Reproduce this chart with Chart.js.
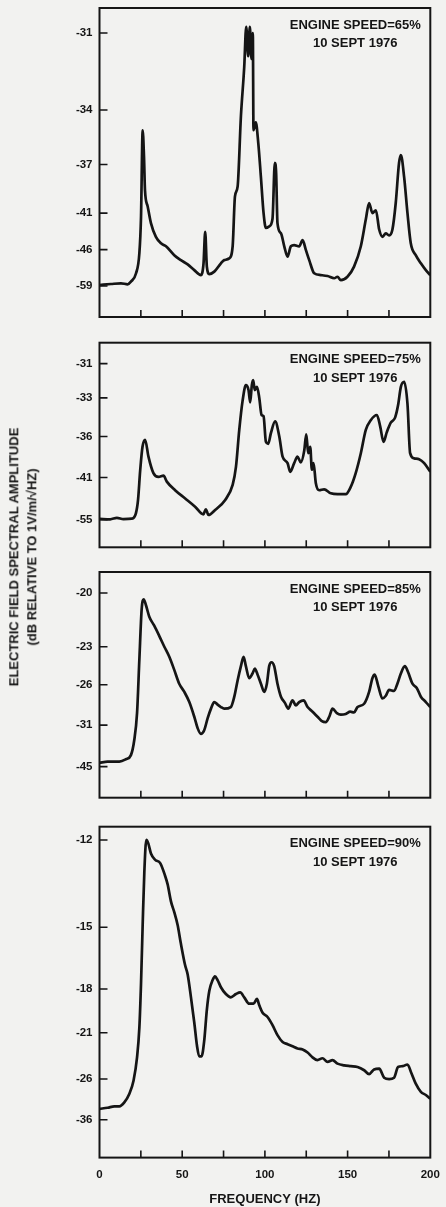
<!DOCTYPE html>
<html>
<head>
<meta charset="utf-8">
<script src="https://cdn.jsdelivr.net/npm/chart.js@4.4.0/dist/chart.umd.min.js"></script>
<style>
  html, body { margin: 0; padding: 0; background: #f2f2f0; }
  body { width: 446px; height: 1207px; position: relative; overflow: hidden; font-family: "Liberation Sans", Arial, sans-serif; }
  canvas { position: absolute; left: 0; }
  .ytitle { position: absolute; left: 23px; top: 557px; transform: translate(-50%, -50%) rotate(-90deg);
    white-space: nowrap; text-align: center; font-weight: bold; font-size: 13px; line-height: 17.7px; color: #151515; }
</style>
</head>
<body>
<canvas id="c65" width="446" height="330" style="top:0px"></canvas>
<canvas id="c75" width="446" height="230" style="top:330px"></canvas>
<canvas id="c85" width="446" height="250" style="top:560px"></canvas>
<canvas id="c90" width="446" height="397" style="top:810px"></canvas>
<div class="ytitle">ELECTRIC FIELD SPECTRAL AMPLITUDE<br>(dB RELATIVE TO 1V/m/√HZ)</div>
<script>
// values: frequency in Hz, level in dB
const freq65 = [0, 6.9, 13, 17, 19, 22.1, 24.1, 25.1, 26.1, 26.9, 27.5, 29.1, 31.1, 34.1, 37.2, 40.2, 45.2, 49.2, 53.3, 57.3,
  61.3, 62.9, 63.9, 64.9, 66.4, 69.4, 73.4, 75.4, 78.4, 80.5, 81.9, 83.5, 85.5, 87.5, 88.7, 89.9, 90.9, 91.9, 92.7, 93.1,
  94.5, 96.0, 97.6, 99.2, 100.6, 102.6, 104.6, 106.0, 106.8, 107.6, 109.7, 111.7, 113.7, 115.7, 117.7, 120.7, 122.8, 124.8, 126.8, 129.8,
  133.8, 137.9, 141.9, 143.9, 145.9, 149.9, 153.9, 158.0, 161.0, 163.0, 165.0, 167.1, 169.1, 171.1, 173.1, 175.1, 177.1, 179.1, 181.1, 182.2,
  184.2, 186.2, 188.2, 191.2, 194.3, 197.3, 200];
const db65 = [-58.2, -57.5, -57.0, -57.7, -56.0, -52.1, -46.7, -41.4, -35.0, -36.5, -38.9, -40.3, -42.1, -43.9, -44.9, -45.4, -47.1, -48.2, -49.3, -51.0,
  -52.8, -49.0, -43.2, -49.9, -52.4, -51.5, -49.0, -48.2, -47.8, -45.4, -39.4, -38.6, -34.3, -32.2, -30.8, -31.8, -30.8, -31.9, -31.0, -35.0,
  -34.6, -35.7, -37.9, -41.0, -42.7, -42.5, -41.6, -36.9, -37.6, -42.1, -43.4, -45.4, -47.4, -45.4, -45.2, -45.4, -44.4, -46.1, -48.2, -52.1,
  -52.8, -53.2, -54.2, -53.5, -55.1, -53.5, -49.9, -45.4, -41.7, -40.0, -41.0, -40.7, -42.9, -43.9, -43.4, -43.7, -42.9, -40.0, -36.9, -36.4,
  -37.9, -41.0, -44.9, -47.1, -49.0, -51.0, -52.8];

const freq75 = [0, 6.5, 10.5, 14.5, 19.5, 22.0, 23.3, 24.6, 26.0, 27.6, 29.6, 32.6, 35.7, 38.7, 40.7, 45.7, 51.8, 57.8, 62.8, 64.3,
  65.9, 69.9, 76.0, 80.5, 82.5, 84.5, 86.5, 88.5, 90.1, 91.1, 92.1, 92.9, 93.9, 95.2, 96.6, 98.0, 99.2, 100.6,
  102.0, 103.6, 106.2, 108.7, 110.7, 113.7, 115.3, 117.7, 119.7, 121.7, 123.8, 125.0, 126.2, 127.4, 128.4, 129.4, 130.8, 132.8, 135.8, 139.9,
  143.9, 148.9, 151.9, 154.9, 158.0, 161.0, 164.0, 167.7, 169.7, 171.7, 173.7, 176.1, 178.7, 180.5, 182.2, 184.2, 186.2, 187.8, 190.2, 193.2,
  196.3, 200];
const db75 = [-54.4, -54.7, -53.6, -54.5, -54.2, -50.9, -45.8, -39.9, -37.0, -36.3, -38.1, -40.3, -40.9, -40.7, -41.7, -43.4, -45.4, -48.0, -51.4, -49.0,
  -51.8, -49.3, -45.8, -42.3, -39.4, -35.4, -33.2, -32.2, -32.5, -33.3, -32.2, -31.9, -32.5, -32.3, -33.0, -34.2, -34.3, -36.5,
  -36.7, -35.7, -34.7, -36.0, -38.1, -38.9, -40.1, -38.9, -38.1, -38.8, -37.4, -35.8, -37.7, -37.0, -39.8, -38.9, -42.0, -43.4, -43.2, -44.1,
  -44.3, -44.3, -42.7, -40.3, -37.7, -35.4, -34.6, -34.2, -35.1, -36.5, -35.6, -34.8, -34.4, -33.5, -32.3, -32.0, -33.4, -37.7, -38.3, -38.4,
  -38.9, -40.1];

const freq85 = [0, 4.9, 12, 16, 19, 21, 22.7, 24.1, 25.5, 26.7, 28.1, 30.1, 33.1, 36.1, 39.2, 42.2, 45.2, 48.2, 51.3, 54.3,
  57.3, 59.3, 61.3, 63.3, 65.4, 67.4, 69.4, 71.4, 73.4, 75.4, 79.4, 81.5, 83.5, 85.5, 87.1, 88.5, 90.5, 92.5, 93.9, 95.6,
  97.6, 99.6, 101.2, 102.6, 104.0, 105.6, 107.6, 109.7, 112.1, 114.1, 116.7, 118.7, 120.7, 123.4, 125.8, 128.8, 131.8, 134.2, 136.8, 138.9,
  140.9, 143.5, 145.9, 148.9, 151.6, 153.9, 156.0, 160.0, 163.0, 165.0, 166.4, 168.5, 171.1, 173.1, 175.1, 178.1, 180.1, 182.2, 184.6, 186.6,
  189.2, 191.8, 194.3, 197.3, 200];
const db85 = [-42.2, -41.6, -41.6, -40.3, -38.5, -34.0, -29.2, -23.9, -20.8, -20.3, -20.6, -21.2, -21.7, -22.3, -23.0, -23.7, -24.7, -25.9, -26.7, -27.8,
  -29.7, -31.5, -32.6, -31.9, -29.9, -28.6, -27.8, -28.1, -28.4, -28.6, -28.4, -27.2, -25.6, -24.4, -23.7, -24.4, -25.4, -25.0, -24.6, -25.1,
  -25.9, -26.7, -25.9, -24.4, -24.1, -24.4, -25.9, -27.2, -27.9, -28.6, -27.6, -28.2, -27.8, -27.6, -28.4, -29.0, -29.7, -30.3, -30.5, -29.7,
  -28.6, -29.2, -29.4, -29.3, -29.0, -29.1, -28.4, -28.0, -26.7, -25.4, -25.1, -26.1, -27.4, -27.1, -26.5, -26.6, -25.9, -25.0, -24.4, -24.9,
  -25.9, -26.3, -27.2, -27.8, -28.4];

const freq90 = [0, 4.9, 9, 12, 15, 18, 20.6, 22.7, 24.1, 25.1, 26.1, 27.1, 28.3, 29.5, 31.1, 33.7, 36.7, 39.6, 41.2, 43.2,
  45.2, 47.2, 49.2, 51.7, 53.3, 55.3, 57.3, 58.9, 60.3, 61.7, 63.3, 64.9, 66.4, 68.4, 69.8, 71.4, 73.4, 76.4, 79.4, 82.5,
  85.1, 87.5, 90.5, 93.1, 95.2, 96.6, 98.6, 101.6, 104.6, 107.6, 110.7, 113.7, 116.7, 119.7, 122.8, 125.8, 128.8, 131.8, 134.8, 137.9,
  140.9, 143.9, 147.9, 151.9, 156.0, 160.0, 163.0, 166.0, 169.1, 172.1, 175.1, 178.1, 180.5, 183.2, 186.2, 188.6, 191.2, 194.3, 197.3, 200];
const db90 = [-32.0, -31.7, -31.3, -31.3, -30.3, -28.5, -26.2, -23.3, -20.6, -17.7, -14.9, -13.0, -12.0, -12.1, -12.4, -12.6, -12.7, -13.1, -13.4, -14.0,
  -14.4, -14.9, -15.7, -16.7, -17.2, -18.5, -20.2, -22.1, -23.2, -23.2, -21.7, -19.3, -18.1, -17.5, -17.3, -17.5, -17.9, -18.3, -18.5, -18.3,
  -18.2, -18.5, -18.9, -18.9, -18.6, -19.0, -19.5, -19.8, -20.4, -21.2, -21.8, -22.0, -22.2, -22.4, -22.5, -22.8, -23.3, -23.6, -23.4, -23.8,
  -23.6, -24.0, -24.2, -24.3, -24.4, -24.8, -25.3, -24.7, -24.6, -25.8, -26.0, -25.8, -24.4, -24.3, -24.1, -25.2, -26.7, -28.1, -28.7, -29.5];

// dB tick labels printed on each panel's axis
const ticks65 = [-31, -34, -37, -41, -46, -59];
const ticks75 = [-31, -33, -36, -41, -55];
const ticks85 = [-20, -23, -26, -31, -45];
const ticks90 = [-12, -15, -18, -21, -26, -36];

const freqTicks = [25, 50, 75, 100, 125, 150, 175];
const dateLabel = '10 SEPT 1976';

const ink = '#151515';
const fontFam = '"Liberation Sans", Arial, sans-serif';
Chart.defaults.font.family = fontFam;

// the original plots are linear in field amplitude with dB labels
const toAmp = db => Math.pow(10, db / 20);

const framePlugin = {
  id: 'frame',
  afterDatasetsDraw(chart, args, opts) {
    const ctx = chart.ctx;
    const a = chart.chartArea;
    const x = chart.scales.x, y = chart.scales.y;
    ctx.save();
    ctx.strokeStyle = ink;
    ctx.lineWidth = 1.6;
    ctx.beginPath();
    opts.yTicks.forEach(d => {
      const py = y.getPixelForValue(toAmp(d));
      ctx.moveTo(a.left, py);
      ctx.lineTo(a.left + 8, py);
    });
    freqTicks.forEach(f => {
      const px = x.getPixelForValue(f);
      ctx.moveTo(px, a.bottom);
      ctx.lineTo(px, a.bottom - 7);
    });
    ctx.stroke();
    ctx.lineWidth = 2;
    ctx.strokeRect(a.left, a.top, a.right - a.left, a.bottom - a.top);

    ctx.font = 'bold 13px ' + fontFam;
    ctx.fillStyle = ink;
    ctx.textAlign = 'center';
    ctx.textBaseline = 'middle';
    const cx = a.right - 75;
    ctx.fillText('ENGINE SPEED=' + opts.speed, cx, a.top + 17);
    ctx.fillText(dateLabel, cx, a.top + 35.5);
    ctx.restore();
  }
};

function makePanel(id, freq, db, yTicks, speed, yMin, yMax, padTop, padBottom, showX) {
  return new Chart(document.getElementById(id), {
    type: 'line',
    data: {
      datasets: [{
        data: freq.map((f, i) => ({ x: f, y: toAmp(db[i]) })),
        borderColor: ink,
        borderWidth: 2.7,
        pointRadius: 0,
        cubicInterpolationMode: 'monotone',
        fill: false
      }]
    },
    options: {
      responsive: false,
      animation: false,
      events: [],
      layout: { padding: { left: 0, right: 15.7, top: padTop, bottom: padBottom } },
      plugins: {
        legend: { display: false },
        tooltip: { enabled: false },
        frame: { yTicks: yTicks, speed: speed }
      },
      scales: {
        x: {
          type: 'linear', min: 0, max: 200, display: showX,
          grid: { display: false, drawTicks: false }, border: { display: false },
          afterFit: s => { s.paddingLeft = 0; s.paddingRight = 0; },
          ticks: {
            stepSize: 25, autoSkip: false, maxRotation: 0, padding: 10, color: ink,
            font: { size: 11.5, weight: 'bold' },
            callback: v => (v % 50 === 0 ? v : '')
          },
          title: {
            display: showX, text: 'FREQUENCY (HZ)', color: ink,
            font: { size: 13, weight: 'bold' }, padding: { top: 0, bottom: 0 }
          }
        },
        y: {
          type: 'linear', min: yMin, max: yMax,
          grid: { display: false, drawTicks: false }, border: { display: false },
          afterBuildTicks: s => { s.ticks = yTicks.map(d => ({ value: toAmp(d) })); },
          afterFit: s => { s.width = 99.5; s.paddingTop = 0; s.paddingBottom = 0; },
          ticks: {
            padding: 7, color: ink, autoSkip: false,
            font: { size: 11.5, weight: 'bold' },
            callback: v => Math.round(20 * Math.log10(v))
          }
        }
      }
    },
    plugins: [framePlugin]
  });
}

makePanel('c65', freq65, db65, ticks65, '65%', -0.002193, 0.030856, 8, 13, false);
makePanel('c75', freq75, db75, ticks75, '75%', -0.002894, 0.031731, 12.7, 12.7, false);
makePanel('c85', freq85, db85, ticks85, '85%', -0.01125, 0.11141, 12, 12.3, false);
makePanel('c90', freq90, db90, ticks90, '90%', -0.015922, 0.26234, 16.7, 0, true);
</script>
</body>
</html>
